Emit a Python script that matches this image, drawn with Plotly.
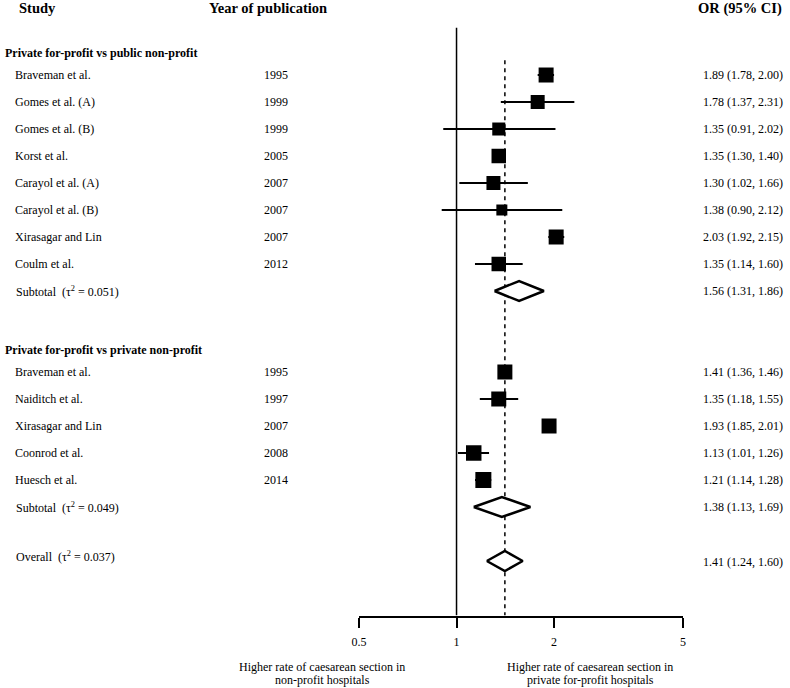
import math
import plotly.graph_objects as go

# ---------------- data ----------------
group1_label = "Private for-profit vs public non-profit"
studies1 = ["Braveman et al.", "Gomes et al. (A)", "Gomes et al. (B)", "Korst et al.",
            "Carayol et al. (A)", "Carayol et al. (B)", "Xirasagar and Lin", "Coulm et al."]
years1 = [1995, 1999, 1999, 2005, 2007, 2007, 2007, 2012]
or1 = [1.89, 1.78, 1.35, 1.35, 1.30, 1.38, 2.03, 1.35]
lo1 = [1.78, 1.37, 0.91, 1.30, 1.02, 0.90, 1.92, 1.14]
hi1 = [2.00, 2.31, 2.02, 1.40, 1.66, 2.12, 2.15, 1.60]
weights1 = [22.5, 19.6, 16.9, 21.0, 19.6, 12.1, 22.5, 21.0]
sub1 = (1.56, 1.31, 1.86)
tau1 = "0.051"

group2_label = "Private for-profit vs private non-profit"
studies2 = ["Braveman et al.", "Naiditch et al.", "Xirasagar and Lin", "Coonrod et al.", "Huesch et al."]
years2 = [1995, 1997, 2007, 2008, 2014]
or2 = [1.41, 1.35, 1.93, 1.13, 1.21]
lo2 = [1.36, 1.18, 1.85, 1.01, 1.14]
hi2 = [1.46, 1.55, 2.01, 1.26, 1.28]
weights2 = [22.5, 22.5, 22.5, 24.0, 25.6]
sub2 = (1.38, 1.13, 1.69)
tau2 = "0.049"

overall = (1.41, 1.24, 1.60)
tau_all = "0.037"

null_value = 1
tick_vals = [0.5, 1, 2, 5]
tick_text = ["0.5", "1", "2", "5"]
left_note = ["Higher rate of caesarean section in", "non-profit hospitals"]
right_note = ["Higher rate of caesarean section in", "private for-profit hospitals"]

# ---------------- layout helpers ----------------
W, H = 790, 688
FONT = "Liberation Serif, Times New Roman, serif"
X_MIN, X_MAX = 0.5, 5
X_DOM = (359 / W, 683 / W)

# row positions (in row units)
hdr1_row = 0.2
rows1 = [1, 2, 3, 4, 5, 6, 7, 8]
sub1_row = 9
hdr2_row = 11.2
rows2 = [12, 13, 14, 15, 16]
sub2_row = 17
overall_row = 19.0
Y_TOP, Y_BOTTOM = -0.778, 21.037

def px(x):
    return x / W

def fmt(v):
    return f"{v[0]:.2f} ({v[1]:.2f}, {v[2]:.2f})"

fig = go.Figure()

# null line (OR = 1), kept just inside the plotting range
fig.add_trace(go.Scatter(x=[null_value, null_value], y=[Y_TOP + 0.03, Y_BOTTOM - 0.03],
                         mode="lines", line=dict(color="black", width=1.5), hoverinfo="skip",
                         showlegend=False, cliponaxis=True))
# dashed overall line
fig.add_trace(go.Scatter(x=[overall[0], overall[0]], y=[0.45, Y_BOTTOM - 0.03], mode="lines",
                         line=dict(color="black", width=1.5, dash="4px,4px"), hoverinfo="skip",
                         showlegend=False, cliponaxis=True))

# CI lines
cx, cy = [], []
for o, l, h, r in list(zip(or1, lo1, hi1, rows1)) + list(zip(or2, lo2, hi2, rows2)):
    cx += [l, h, None]
    cy += [r, r, None]
fig.add_trace(go.Scatter(x=cx, y=cy, mode="lines", line=dict(color="black", width=2),
                         hoverinfo="skip", showlegend=False, cliponaxis=True))

# squares
all_or = or1 + or2
all_rows = rows1 + rows2
all_w = weights1 + weights2
sizes = [math.sqrt(10 * w) for w in all_w]
fig.add_trace(go.Scatter(x=all_or, y=all_rows, mode="markers",
                         marker=dict(symbol="square", size=sizes, color="black", opacity=1,
                                     line=dict(width=0)),
                         showlegend=False, cliponaxis=True))

# diamonds
half_h = 0.37
for est, row in [(sub1, sub1_row), (sub2, sub2_row), (overall, overall_row)]:
    o, l, h = est
    fig.add_trace(go.Scatter(x=[l, o, h, o, l], y=[row, row - half_h, row, row + half_h, row],
                             mode="lines", fill="toself", fillcolor="white",
                             line=dict(color="black", width=2.5), showlegend=False,
                             hoverinfo="skip", cliponaxis=True))

ann = []
def add(text, x, y, yref="y", bold=False, size=12, xanchor="left"):
    ann.append(dict(text=f"<b>{text}</b>" if bold else text, x=x, y=y, xref="paper", yref=yref,
                    xanchor=xanchor, yanchor="middle", showarrow=False,
                    font=dict(family=FONT, size=size, color="black")))

# column headers
add("Study", px(17), 1 - 8 / H, yref="paper", bold=True, size=14.5)
add("Year of publication", px(207), 1 - 8 / H, yref="paper", bold=True, size=14.5)
add("OR (95% CI)", px(784), 1 - 8 / H, yref="paper", bold=True, size=14.5, xanchor="right")

add(group1_label, px(3), hdr1_row, bold=True)
for s, yv, o, l, h, r in zip(studies1, years1, or1, lo1, hi1, rows1):
    add(s, px(13), r)
    add(str(yv), px(262), r)
    add(fmt((o, l, h)), px(701), r)
add(f"Subtotal\u00a0\u00a0(τ<sup>2</sup> = {tau1})", px(14), sub1_row)
add(fmt(sub1), px(701), sub1_row)

add(group2_label, px(3), hdr2_row, bold=True)
for s, yv, o, l, h, r in zip(studies2, years2, or2, lo2, hi2, rows2):
    add(s, px(13), r)
    add(str(yv), px(262), r)
    add(fmt((o, l, h)), px(701), r)
add(f"Subtotal\u00a0\u00a0(τ<sup>2</sup> = {tau2})", px(14), sub2_row)
add(fmt(sub2), px(701), sub2_row)

add(f"Overall\u00a0\u00a0(τ<sup>2</sup> = {tau_all})", px(14), overall_row - 0.17)
add(fmt(overall), px(701), overall_row + 0.05)

# bottom notes
for i, t in enumerate(left_note):
    add(t, px(322), 1 - (667 + 13 * i) / H, yref="paper", xanchor="center")
for i, t in enumerate(right_note):
    add(t, px(590), 1 - (667 + 13 * i) / H, yref="paper", xanchor="center")

fig.update_layout(
    width=W, height=H,
    margin=dict(l=0, r=0, t=0, b=0, autoexpand=False),
    paper_bgcolor="white", plot_bgcolor="white",
    annotations=ann,
    hovermode=False,
    dragmode=False,
    xaxis=dict(type="log", range=[math.log10(X_MIN), math.log10(X_MAX)],
               domain=list(X_DOM),
               tickvals=tick_vals, ticktext=tick_text,
               showline=True, linecolor="black", linewidth=2,
               ticks="outside", ticklen=10, tickwidth=2, tickcolor="black",
               ticklabelstandoff=4, fixedrange=True,
               showgrid=False, zeroline=False, showspikes=False,
               tickfont=dict(family=FONT, size=12, color="black")),
    yaxis=dict(range=[Y_BOTTOM, Y_TOP], domain=[72 / H, 661 / H],
               showline=False, showticklabels=False, showgrid=False, zeroline=False, ticks="",
               showspikes=False, fixedrange=True),
    showlegend=False,
)

fig.write_html("out.html", config={"displayModeBar": False, "staticPlot": True},
               post_script="document.body.style.margin='0';document.body.style.overflow='hidden';")
